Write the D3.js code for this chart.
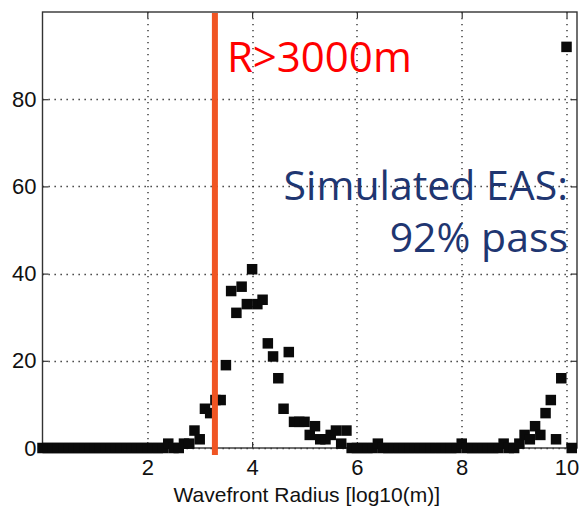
<!DOCTYPE html>
<html>
<head>
<meta charset="utf-8">
<script src="https://cdn.jsdelivr.net/npm/d3@7"></script>
<style>
  body { margin: 0; background: #fff; }
  .tick text { font-family: "Liberation Sans", Arial, sans-serif; }
</style>
</head>
<body>
<script>
// histogram of wavefront radius, one bin every 0.1 in log10(m)
var radiusBins = [
  0.0, 0.1, 0.2, 0.3, 0.4, 0.5, 0.6, 0.7, 0.8, 0.9,
  1.0, 1.1, 1.2, 1.3, 1.4, 1.5, 1.6, 1.7, 1.8, 1.9,
  2.0, 2.1, 2.2, 2.3, 2.4, 2.5, 2.6, 2.7, 2.8, 2.9,
  3.0, 3.1, 3.2, 3.3, 3.4, 3.5, 3.6, 3.7, 3.8, 3.9,
  4.0, 4.1, 4.2, 4.3, 4.4, 4.5, 4.6, 4.7, 4.8, 4.9,
  5.0, 5.1, 5.2, 5.3, 5.4, 5.5, 5.6, 5.7, 5.8, 5.9,
  6.0, 6.1, 6.2, 6.3, 6.4, 6.5, 6.6, 6.7, 6.8, 6.9,
  7.0, 7.1, 7.2, 7.3, 7.4, 7.5, 7.6, 7.7, 7.8, 7.9,
  8.0, 8.1, 8.2, 8.3, 8.4, 8.5, 8.6, 8.7, 8.8, 8.9,
  9.0, 9.1, 9.2, 9.3, 9.4, 9.5, 9.6, 9.7, 9.8, 9.9,
  10.0, 10.1
];
var counts = [
  0, 0, 0, 0, 0, 0, 0, 0, 0, 0,
  0, 0, 0, 0, 0, 0, 0, 0, 0, 0,
  0, 0, 0, 0, 1, 0, 0, 1, 1, 4,
  2, 9, 8, 11, 11, 19, 36, 31, 37, 33,
  41, 33, 34, 24, 21, 16, 9, 22, 6, 6,
  6, 3, 5, 2, 2, 3, 4, 1, 4, 0,
  0, 0, 0, 0, 1, 0, 0, 0, 0, 0,
  0, 0, 0, 0, 0, 0, 0, 0, 0, 0,
  1, 0, 0, 0, 0, 0, 0, 0, 1, 0,
  0, 1, 3, 2, 5, 3, 8, 11, 2, 16,
  92, 0
];
var xTicks = [2, 4, 6, 8, 10];
var yTicks = [0, 20, 40, 60, 80];
var cutoff = 3.29;
var cutoffLabel = "R>3000m";
var noteLines = ["Simulated EAS:", "92% pass"];
var xLabel = "Wavefront Radius [log10(m)]";

var margin = {top: 12, right: 3, bottom: 62, left: 42.5},
    width = 580 - margin.left - margin.right,
    height = 510 - margin.top - margin.bottom;

var x = d3.scaleLinear().domain([0, 10.2]).range([0, width]);
var y = d3.scaleLinear().domain([0, 100]).range([height, 0]);

var data = radiusBins.map(function(r, i) { return {r: r, n: counts[i]}; });

var svg = d3.select("body").append("svg")
    .attr("width", 580)
    .attr("height", 510)
  .append("g")
    .attr("transform", "translate(" + margin.left + "," + margin.top + ")");

// dotted grid
svg.selectAll(".gx").data(xTicks).enter().append("line")
    .attr("x1", function(d) { return Math.round(x(d)) + 0.5; })
    .attr("x2", function(d) { return Math.round(x(d)) + 0.5; })
    .attr("y1", 0).attr("y2", height)
    .attr("stroke", "#222").attr("stroke-width", 1.3).attr("stroke-dasharray", "1.3,4.7");
svg.selectAll(".gy").data(yTicks).enter().append("line")
    .attr("x1", 0).attr("x2", width)
    .attr("y1", function(d) { return Math.round(y(d)) + 0.5; })
    .attr("y2", function(d) { return Math.round(y(d)) + 0.5; })
    .attr("stroke", "#222").attr("stroke-width", 1.3).attr("stroke-dasharray", "1.3,4.7");

// axes with ticks pointing inward
var xAxis = svg.append("g")
    .attr("transform", "translate(0," + height + ")")
    .call(d3.axisBottom(x).tickValues(xTicks).tickSize(-6).tickPadding(11));
var yAxis = svg.append("g")
    .call(d3.axisLeft(y).tickValues(yTicks).tickSize(-6).tickPadding(6));
svg.append("g")
    .call(d3.axisTop(x).tickValues(xTicks).tickSize(-6).tickFormat(""));
svg.append("g")
    .attr("transform", "translate(" + width + ",0)")
    .call(d3.axisRight(y).tickValues(yTicks).tickSize(-6).tickFormat(""));

svg.selectAll(".domain").remove();
svg.selectAll(".tick line").attr("stroke", "#333").attr("stroke-width", 1.2);
xAxis.selectAll("text").attr("font-size", 22).attr("fill", "#111");
yAxis.selectAll("text").attr("font-size", 22).attr("fill", "#111");

// frame
svg.append("rect")
    .attr("width", width).attr("height", height)
    .attr("fill", "none").attr("stroke", "#333").attr("stroke-width", 1.4);

// points
var s = 10.5;
svg.selectAll(".pt").data(data).enter().append("rect")
    .attr("x", function(d) { return x(d.r) - s / 2; })
    .attr("y", function(d) { return y(d.n) - s / 2; })
    .attr("width", s).attr("height", s)
    .attr("fill", "#0a0a0a");

// cutoff line
svg.append("line")
    .attr("x1", x(cutoff)).attr("x2", x(cutoff))
    .attr("y1", 1).attr("y2", height + 7)
    .attr("stroke", "#f05523").attr("stroke-width", 6);

svg.append("text")
    .attr("x", x(cutoff) + 12).attr("y", 60)
    .attr("font-family", "'Open Sans', sans-serif")
    .attr("font-size", 42)
    .attr("fill", "#ff0000")
    .text(cutoffLabel);

svg.selectAll(".note").data(noteLines).enter().append("text")
    .attr("x", width - 9)
    .attr("y", function(d, i) { return 188 + i * 52; })
    .attr("text-anchor", "end")
    .attr("font-family", "'Open Sans', sans-serif")
    .attr("font-size", 41)
    .attr("fill", "#1f3671")
    .text(function(d) { return d; });

// x label
svg.append("text")
    .attr("x", width / 2 - 3).attr("y", height + 54)
    .attr("text-anchor", "middle")
    .attr("font-family", "'Liberation Sans', Arial, sans-serif")
    .attr("font-size", 21)
    .attr("fill", "#111")
    .text(xLabel);
</script>
</body>
</html>
